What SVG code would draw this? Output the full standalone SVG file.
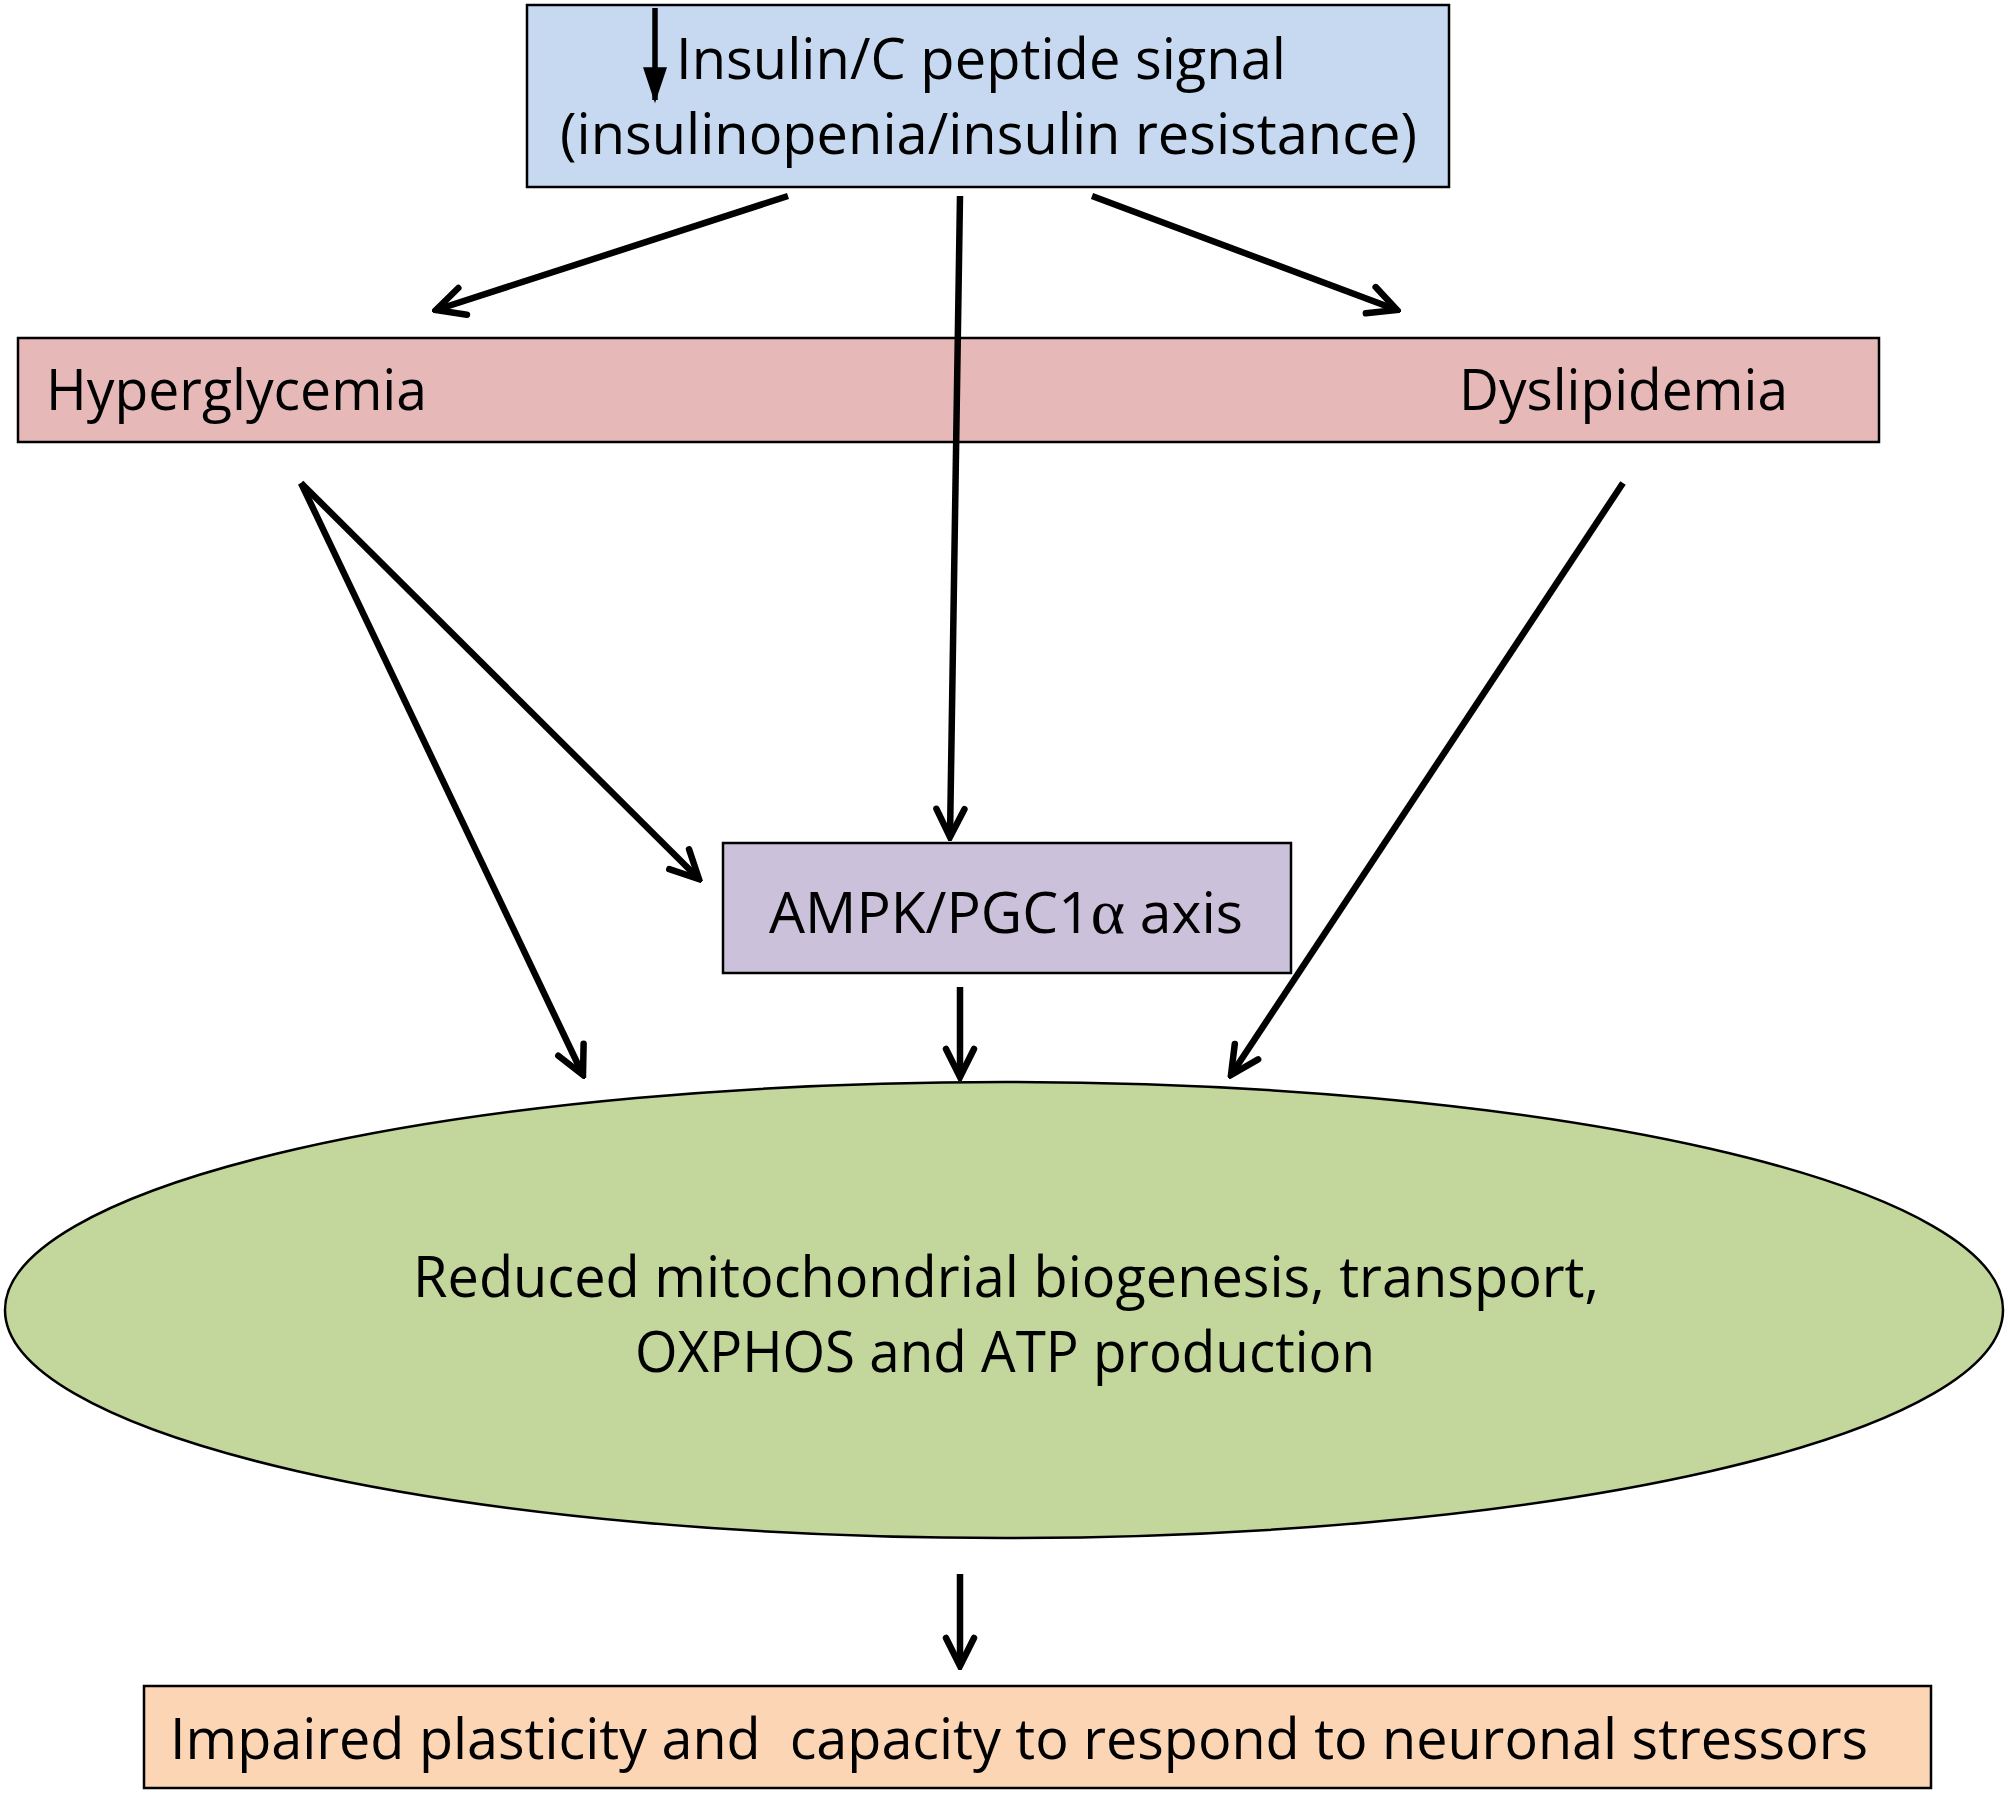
<svg xmlns="http://www.w3.org/2000/svg" width="2010" height="1796" viewBox="0 0 2010 1796">
<style>
.box{stroke:#000;stroke-width:2.5}
.t{font-family:"Open Sans","Liberation Sans",sans-serif;font-size:56px;fill:#000}
.c{fill:none;stroke:#000;stroke-width:6.5}
</style>
<defs>
<marker id="ah" markerUnits="userSpaceOnUse" markerWidth="40" markerHeight="40" viewBox="-36 -20 40 40" refX="0" refY="0" orient="auto">
<path d="M-28,-14 L0,0 L-28,14" fill="none" stroke="#000" stroke-width="6.5" stroke-linecap="round" stroke-linejoin="miter"/>
</marker>
<marker id="ahs" markerUnits="userSpaceOnUse" markerWidth="40" markerHeight="40" viewBox="-34 -16 38 32" refX="0" refY="0" orient="auto">
<path d="M-30,-10 L0,0 L-30,10 Z" fill="#000" stroke="#000" stroke-width="2"/>
</marker>
</defs>
<rect width="2010" height="1796" fill="#fff"/>
<g id="insulin">
<rect class="box" x="527" y="5" width="922" height="182" fill="#c6d9f1"/>
<line x1="655" y1="8" x2="655" y2="100" stroke="#000" stroke-width="5.5" marker-end="url(#ahs)"/>
<text class="t" x="676" y="79" textLength="610" lengthAdjust="spacingAndGlyphs">Insulin/C peptide signal</text>
<text class="t" x="560" y="154" textLength="857" lengthAdjust="spacingAndGlyphs">(insulinopenia/insulin resistance)</text>
</g>
<g id="hyper-dys">
<rect class="box" x="18" y="338" width="1861" height="104" fill="#e6b9b8"/>
<text class="t" x="46" y="410" textLength="381" lengthAdjust="spacingAndGlyphs">Hyperglycemia</text>
<text class="t" x="1459" y="410" textLength="329" lengthAdjust="spacingAndGlyphs">Dyslipidemia</text>
</g>
<g id="ampk">
<rect class="box" x="723" y="843" width="568" height="130" fill="#ccc1da"/>
<text class="t" x="769" y="933" textLength="474" lengthAdjust="spacingAndGlyphs">AMPK/PGC1<tspan font-family="'Liberation Serif',serif" font-size="64">α</tspan> axis</text>
</g>
<g id="mito">
<ellipse class="box" cx="1004" cy="1310" rx="999" ry="228" fill="#c3d69b"/>
<text class="t" x="413" y="1297" textLength="1186" lengthAdjust="spacingAndGlyphs">Reduced mitochondrial biogenesis, transport,</text>
<text class="t" x="635" y="1372" textLength="740" lengthAdjust="spacingAndGlyphs">OXPHOS and ATP production</text>
</g>
<g id="impaired">
<rect class="box" x="144" y="1686" width="1787" height="102" fill="#fcd5b5"/>
<text class="t" x="170" y="1759" textLength="1698" lengthAdjust="spacingAndGlyphs">Impaired plasticity and&#160; capacity to respond to neuronal stressors</text>
</g>
<g id="connectors">
<line class="c" x1="788" y1="196" x2="436" y2="310" marker-end="url(#ah)"/>
<line class="c" x1="960" y1="196" x2="950" y2="837" marker-end="url(#ah)"/>
<line class="c" x1="1092" y1="196" x2="1397" y2="310" marker-end="url(#ah)"/>
<line class="c" x1="301" y1="483" x2="699" y2="879" marker-end="url(#ah)"/>
<line class="c" x1="301" y1="483" x2="583" y2="1075" marker-end="url(#ah)"/>
<line class="c" x1="1623" y1="483" x2="1231" y2="1075" marker-end="url(#ah)"/>
<line class="c" x1="960" y1="987" x2="960" y2="1077" marker-end="url(#ah)"/>
<line class="c" x1="960" y1="1574" x2="960" y2="1666" marker-end="url(#ah)"/>
</g>
</svg>
